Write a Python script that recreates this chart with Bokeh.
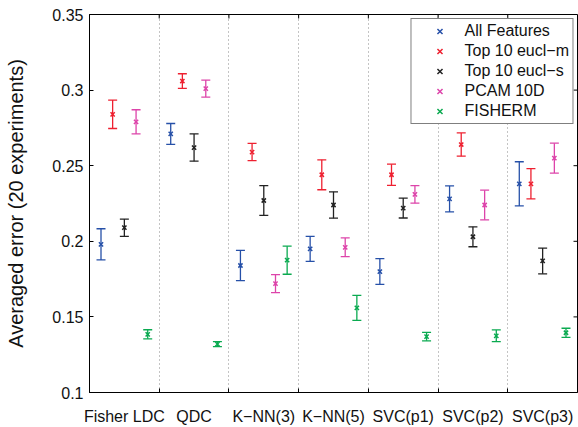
import math
from bokeh.plotting import figure
from bokeh.models import (ColumnDataSource, Whisker, TeeHead, FixedTicker,
                          Legend, LegendItem, Range1d)
from bokeh.embed import file_html
from bokeh.resources import INLINE

categories = ["Fisher LDC", "QDC", "K\u2212NN(3)", "K\u2212NN(5)", "SVC(p1)", "SVC(p2)", "SVC(p3)"]
series_names = ["All Features", "Top 10 eucl\u2212m", "Top 10 eucl\u2212s", "PCAM 10D", "FISHERM"]

all_mean = [0.198, 0.271, 0.184, 0.195, 0.180, 0.228, 0.238]
all_err = [0.0103, 0.0069, 0.0100, 0.0083, 0.0085, 0.0086, 0.0146]
em_mean = [0.284, 0.306, 0.259, 0.244, 0.244, 0.264, 0.238]
em_err = [0.0094, 0.0048, 0.0057, 0.0099, 0.0070, 0.0077, 0.0100]
es_mean = [0.209, 0.262, 0.227, 0.224, 0.222, 0.203, 0.187]
es_err = [0.0057, 0.0090, 0.0098, 0.0087, 0.0066, 0.0066, 0.0085]
pcam_mean = [0.279, 0.301, 0.172, 0.196, 0.231, 0.224, 0.255]
pcam_err = [0.0080, 0.0056, 0.0060, 0.0062, 0.0058, 0.0098, 0.0099]
fish_mean = [0.1385, 0.132, 0.1875, 0.156, 0.137, 0.1375, 0.1395]
fish_err = [0.0030, 0.0017, 0.0093, 0.0083, 0.0028, 0.0039, 0.0030]

y_ticks = [0.1, 0.15, 0.2, 0.25, 0.3, 0.35]

means = [all_mean, em_mean, es_mean, pcam_mean, fish_mean]
errs = [all_err, em_err, es_err, pcam_err, fish_err]
colors = ["#2650a8", "#ee2030", "#222222", "#dd44aa", "#0aaa50"]
offsets = [-0.335, -0.168, 0.0, 0.168, 0.335]

FONT = "Liberation Sans"
X0, X1 = 0.5, len(categories) + 0.5
Y0, Y1 = y_ticks[0], y_ticks[-1]
separators = [i + 1.5 for i in range(len(categories) - 1)]

p = figure(width=578, height=427, output_backend="svg", toolbar_location=None,
           x_range=Range1d(X0, X1), y_range=Range1d(Y0, Y1),
           min_border_left=89, min_border_right=1, min_border_top=14, min_border_bottom=34)
p.background_fill_color = "white"
p.border_fill_color = "white"
p.outline_line_color = "black"
p.outline_line_width = 1

# grid
p.xgrid.ticker = FixedTicker(ticks=separators)
p.xgrid.grid_line_color = "#888888"
p.xgrid.grid_line_dash = "1 3"
p.xgrid.grid_line_width = 1
p.ygrid.grid_line_color = None

items = []
for name, m, e, c, off in zip(series_names, means, errs, colors, offsets):
    xs = [i + 1 + off for i in range(len(categories))]
    src = ColumnDataSource(dict(x=xs, y=m,
                                lo=[a - b for a, b in zip(m, e)],
                                hi=[a + b for a, b in zip(m, e)]))
    w = Whisker(base="x", upper="hi", lower="lo", source=src, dimension="height",
                line_color=c, line_width=1.3,
                upper_head=TeeHead(size=9, line_color=c, line_width=1.3),
                lower_head=TeeHead(size=9, line_color=c, line_width=1.3))
    p.add_layout(w)
    r = p.scatter("x", "y", source=src, marker="x", size=6, line_color=c, line_width=1.5)
    items.append(LegendItem(label=name, renderers=[r]))

# tick marks on the top and right frame edges (box on)
p.ray(x=separators, y=[Y1] * len(separators), length=4, length_units="screen",
      angle=-math.pi / 2, line_color="black", line_width=1)
p.ray(x=[X1] * len(y_ticks), y=y_ticks, length=4, length_units="screen",
      angle=math.pi, line_color="black", line_width=1)

# axes
p.xaxis.ticker = FixedTicker(ticks=list(range(1, len(categories) + 1)), minor_ticks=separators)
p.xaxis.major_label_overrides = {i + 1: c for i, c in enumerate(categories)}
p.xaxis.major_tick_line_color = None
p.xaxis.minor_tick_in = 4
p.xaxis.minor_tick_out = 0
p.xaxis.minor_tick_line_color = "black"
p.xaxis.major_label_standoff = 9

p.yaxis.ticker = FixedTicker(ticks=y_ticks, minor_ticks=[])
p.yaxis.major_label_overrides = {t: ("%g" % t) for t in y_ticks}
p.yaxis.major_tick_in = 4
p.yaxis.major_tick_out = 0
p.yaxis.major_label_standoff = 6
p.yaxis.axis_label = "Averaged error (20 experiments)"
p.yaxis.axis_label_standoff = 22
p.yaxis.axis_label_text_font_style = "normal"
p.yaxis.axis_label_text_font_size = "20px"
p.yaxis.axis_label_text_font = FONT
p.yaxis.axis_label_text_color = "#111111"

for ax in [p.xaxis[0], p.yaxis[0]]:
    ax.major_label_text_font = FONT
    ax.major_label_text_font_size = "16px"
    ax.major_label_text_color = "#111111"
    ax.axis_line_color = "black"

legend = Legend(items=items, location="top_right",
                label_text_font=FONT, label_text_font_size="16px",
                label_text_color="#111111",
                label_height=18, glyph_height=18, glyph_width=50, label_standoff=0,
                spacing=2, padding=3, margin=4,
                border_line_color="black", border_line_width=1,
                background_fill_alpha=1.0)
p.add_layout(legend)

open("out.html", "w").write(file_html(p, INLINE))
